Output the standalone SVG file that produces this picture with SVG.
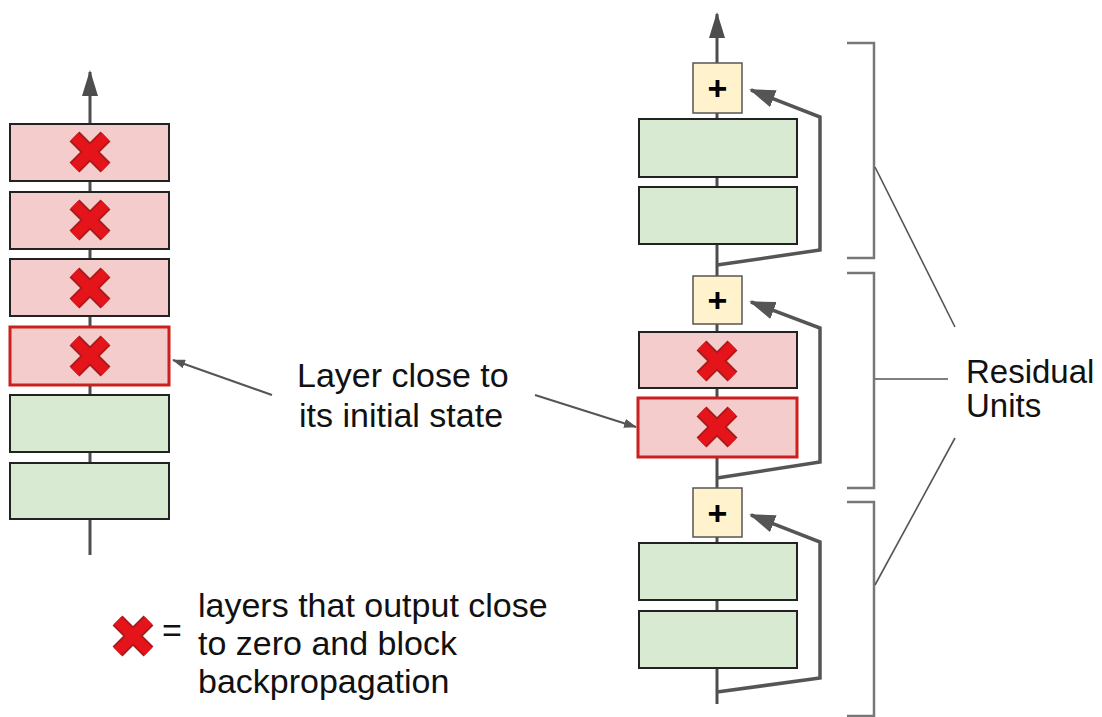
<svg xmlns="http://www.w3.org/2000/svg" width="1102" height="717" viewBox="0 0 1102 717">
<style>
.bg{fill:#ffffff}
.pink{fill:#f4cccc;stroke:#222;stroke-width:2}
.green{fill:#d9ead3;stroke:#222;stroke-width:2}
.hot{fill:#f4cccc;stroke:#cc1f1f;stroke-width:3}
.plus{fill:#fff2cc;stroke:#555;stroke-width:1.5}
.plustxt{font-family:"Liberation Sans",Arial,sans-serif;font-size:34px;font-weight:bold;fill:#000;text-anchor:middle}
.conn{stroke:#4d4d4d;stroke-width:3;fill:none}
.skip{stroke:#555;stroke-width:3.5;fill:none;stroke-linejoin:miter}
.ptr{stroke:#555;stroke-width:2;fill:none}
.brk{stroke:#777;stroke-width:2.5;fill:none}
.thin{stroke:#555;stroke-width:1.6;fill:none}
.lbl{font-family:"Liberation Sans",Arial,sans-serif;font-size:34px;fill:#111}
.xo{stroke:#a51a1a;stroke-width:14;fill:none}
.xi{stroke:#e5141b;stroke-width:10.5;fill:none}
</style>
<defs>
<marker id="ahMain" markerUnits="userSpaceOnUse" markerWidth="26" markerHeight="16" viewBox="0 0 26 16" refX="24" refY="8" orient="auto">
<path d="M0,0 L26,8 L0,16 z" fill="#4d4d4d"/>
</marker>
<marker id="ahSkip" markerUnits="userSpaceOnUse" markerWidth="26" markerHeight="18" viewBox="0 0 26 18" refX="24" refY="9" orient="auto">
<path d="M0,0 L26,9 L0,18 z" fill="#555"/>
</marker>
<marker id="ahPtr" markerUnits="userSpaceOnUse" markerWidth="13" markerHeight="9" viewBox="0 0 13 9" refX="12" refY="4.5" orient="auto">
<path d="M0,0 L13,4.5 L0,9 z" fill="#555"/>
</marker>
<g id="xmark">
<path class="xo" d="M-15.5,-15.5 L15.5,15.5 M15.5,-15.5 L-15.5,15.5"/>
<path class="xi" d="M-15.5,-15.5 L15.5,15.5 M15.5,-15.5 L-15.5,15.5"/>
</g>
</defs>
<rect class="bg" x="0" y="0" width="1102" height="717"/>

<g id="connectors">
<line class="conn" x1="90" y1="124" x2="90" y2="72" marker-end="url(#ahMain)"/>
<line class="conn" x1="90" y1="181" x2="90" y2="192"/>
<line class="conn" x1="90" y1="249" x2="90" y2="259"/>
<line class="conn" x1="90" y1="316" x2="90" y2="327"/>
<line class="conn" x1="90" y1="385" x2="90" y2="395"/>
<line class="conn" x1="90" y1="452" x2="90" y2="463"/>
<line class="conn" x1="90" y1="519" x2="90" y2="555"/>
<line class="conn" x1="717" y1="63" x2="717" y2="14" marker-end="url(#ahMain)"/>
<line class="conn" x1="717" y1="113" x2="717" y2="119"/>
<line class="conn" x1="717" y1="177" x2="717" y2="187"/>
<line class="conn" x1="717" y1="244" x2="717" y2="276"/>
<line class="conn" x1="717" y1="324" x2="717" y2="332"/>
<line class="conn" x1="717" y1="388" x2="717" y2="398"/>
<line class="conn" x1="717" y1="457" x2="717" y2="488"/>
<line class="conn" x1="717" y1="537" x2="717" y2="543"/>
<line class="conn" x1="717" y1="600" x2="717" y2="611"/>
<line class="conn" x1="717" y1="668" x2="717" y2="704"/>
<path class="skip" d="M717,265 L820,250 L820,117 L751,90" marker-end="url(#ahSkip)"/>
<path class="skip" d="M717,478 L820,462 L820,328 L751,302" marker-end="url(#ahSkip)"/>
<path class="skip" d="M717,692 L820,678 L820,542 L751,515" marker-end="url(#ahSkip)"/>
<line class="ptr" x1="272" y1="395" x2="173" y2="360" marker-end="url(#ahPtr)"/>
<line class="ptr" x1="535" y1="395" x2="636" y2="427" marker-end="url(#ahPtr)"/>
<path class="brk" d="M847,43 L874,43 L874,258 L847,258"/>
<path class="brk" d="M847,273 L874,273 L874,488 L847,488"/>
<path class="brk" d="M847,502 L874,502 L874,716 L847,716"/>
<line class="thin" x1="875" y1="167" x2="955" y2="327"/>
<line class="thin" x1="875" y1="379" x2="948" y2="379"/>
<line class="thin" x1="875" y1="585" x2="955" y2="438"/>
</g>

<g id="left-l1"><rect class="pink" x="10" y="124" width="159" height="57"/><use href="#xmark" x="90" y="152"/></g>
<g id="left-l2"><rect class="pink" x="10" y="192" width="159" height="57"/><use href="#xmark" x="90" y="220"/></g>
<g id="left-l3"><rect class="pink" x="10" y="259" width="159" height="57"/><use href="#xmark" x="90" y="288"/></g>
<g id="left-l4"><rect class="hot" x="10" y="327" width="159" height="58"/><use href="#xmark" x="90" y="356"/></g>
<g id="left-l5"><rect class="green" x="10" y="395" width="159" height="57"/></g>
<g id="left-l6"><rect class="green" x="10" y="463" width="159" height="56"/></g>

<g id="right-plus1"><rect class="plus" x="693" y="63" width="49" height="50"/><text class="plustxt" x="717.5" y="100">+</text></g>
<g id="right-l1"><rect class="green" x="639" y="119" width="158" height="58"/></g>
<g id="right-l2"><rect class="green" x="639" y="187" width="158" height="57"/></g>
<g id="right-plus2"><rect class="plus" x="693" y="276" width="49" height="48"/><text class="plustxt" x="717.5" y="312">+</text></g>
<g id="right-l3"><rect class="pink" x="639" y="332" width="158" height="56"/><use href="#xmark" x="717" y="361"/></g>
<g id="right-l4"><rect class="hot" x="638" y="398" width="159" height="59"/><use href="#xmark" x="717" y="427"/></g>
<g id="right-plus3"><rect class="plus" x="693" y="488" width="49" height="49"/><text class="plustxt" x="717.5" y="525">+</text></g>
<g id="right-l5"><rect class="green" x="639" y="543" width="158" height="57"/></g>
<g id="right-l6"><rect class="green" x="639" y="611" width="158" height="57"/></g>

<g id="label-layer">
<text class="lbl" x="297" y="387">Layer close to</text>
<text class="lbl" x="299" y="427">its initial state</text>
</g>
<g id="label-residual">
<text class="lbl" x="966" y="383" style="font-size:33px">Residual</text>
<text class="lbl" x="966" y="417" style="font-size:33px">Units</text>
</g>
<g id="legend">
<use href="#xmark" x="133" y="636"/>
<text class="lbl" x="162" y="642">=</text>
<text class="lbl" x="198" y="617">layers that output close</text>
<text class="lbl" x="198" y="655">to zero and block</text>
<text class="lbl" x="198" y="693">backpropagation</text>
</g>
</svg>
